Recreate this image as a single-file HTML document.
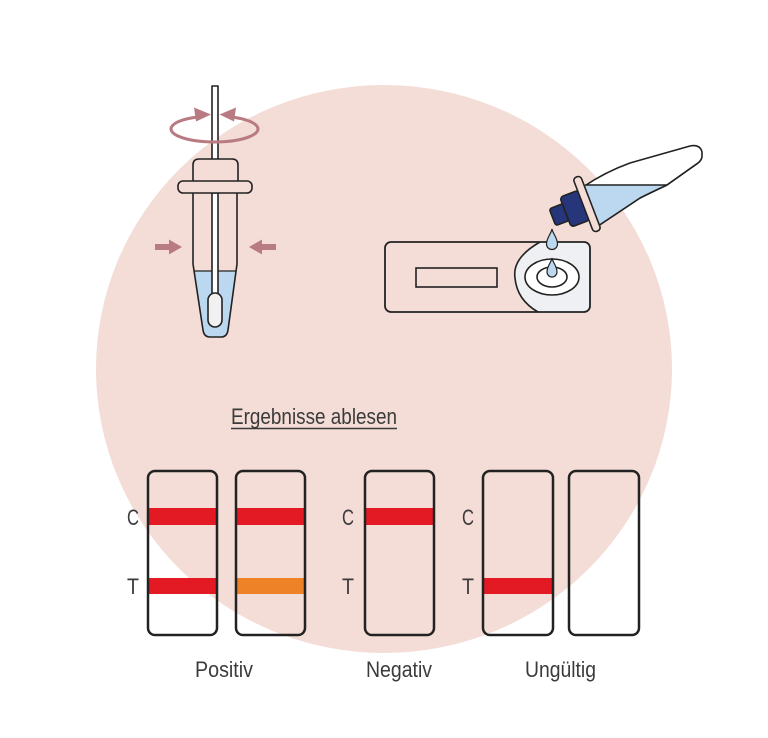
<!DOCTYPE html>
<html><head><meta charset="utf-8"><style>
html,body{margin:0;padding:0;background:#fff;}
svg{display:block;}
text{font-family:"Liberation Sans",sans-serif;fill:#3b3b3b;}
</style></head><body>
<svg width="768" height="738" viewBox="0 0 768 738" xmlns="http://www.w3.org/2000/svg">
<rect width="768" height="738" fill="#fff"/>
<ellipse cx="384" cy="369" rx="288" ry="284" fill="#f3ddd6"/>

<!-- Tube illustration -->
<g stroke="#222" stroke-width="1.6" stroke-linejoin="round">
  <rect x="212" y="86" width="6" height="75" fill="#fff"/>
  <path d="M194.2,271 L235.8,271 L228,330 Q227,337 221,337 L210,337 Q204,337 203,330 Z" fill="#bcd8f0" stroke="none"/>
  <line x1="194.2" y1="271" x2="235.8" y2="271" stroke="#222" stroke-width="1.2"/>
  <path d="M193,193 L193,264 L203,330 Q204,337 210,337 L221,337 Q227,337 228,330 L237,264 L237,193" fill="none"/>
  <rect x="212" y="193" width="6" height="102" fill="#fff"/>
  <rect x="208" y="293" width="14" height="34" rx="7" fill="#f1f1f1"/>
  <path d="M193,183 L193,165 Q193,159 199,159 L232,159 Q238,159 238,165 L238,183 Z" fill="#f3ddd6"/>
  <rect x="178" y="181" width="74" height="12" rx="5" fill="#f3ddd6"/>
</g>
<g fill="#b97b82" stroke="none">
  <path d="M200,116.7 A43.5,13 0 1 0 229,116.7" fill="none" stroke="#b97b82" stroke-width="3"/>
  <polygon points="211,114.5 194,107.5 196,121.5"/>
  <polygon points="219.5,114.5 236,107.5 234,121.5"/>
  <rect x="155" y="244" width="16" height="6"/>
  <polygon points="169,239.5 182,247 169,254.5"/>
  <rect x="261" y="244" width="15" height="6"/>
  <polygon points="262,239.5 249,247 262,254.5"/>
</g>

<!-- Cassette -->
<path d="M540,242 Q512,258 515,278 Q517,300 538,312 L584,312 Q590,312 590,306 L590,248 Q590,242 584,242 Z" fill="#eef0f3"/>
<path d="M540,242 Q512,258 515,278 Q517,300 538,312" fill="none" stroke="#222" stroke-width="1.6"/>
<rect x="385" y="242" width="205" height="70" rx="6" fill="none" stroke="#222" stroke-width="1.8"/>
<rect x="416" y="268" width="81" height="19" fill="none" stroke="#222" stroke-width="1.6"/>
<ellipse cx="552" cy="277" rx="27" ry="18" fill="#fff" stroke="#222" stroke-width="1.6"/>
<ellipse cx="552" cy="277" rx="15" ry="10" fill="#fff" stroke="#222" stroke-width="1.6"/>
<path d="M552,258 C553,263 557,266 557,272 A5,5 0 1 1 547,272 C547,266 551,263 552,258 Z" fill="#bcd8f0" stroke="#222" stroke-width="1.2"/>
<path d="M552,229 C553,234 557.5,238 557.5,244 A5.5,5.5 0 1 1 546.5,244 C546.5,238 551,234 552,229 Z" fill="#bcd8f0" stroke="#222" stroke-width="1.2"/>

<!-- Dropper bottle -->
<g stroke="#222" stroke-width="1.6" stroke-linejoin="round">
  <path d="M583,187 Q605,172 630,163 L690,146 Q700,144 702,152 L702,157 Q701,161 698,163 L667,185 Q652,192 640,198 L598,226 Z" fill="#fff"/>
  <path d="M585,185 L667,185 Q652,192 640,198 L598,226 Z" fill="#bcd8f0" stroke="none"/>
  <line x1="585" y1="185" x2="667" y2="185" stroke-width="1.4"/>
  <path d="M598,226 L640,198 Q652,192 667,185 L698,163" fill="none"/>
  <g transform="translate(587,204) rotate(-21)">
    <rect x="-37" y="-9" width="16" height="18" rx="2.5" fill="#27357b"/>
    <rect x="-23" y="-16" width="20" height="32" rx="3.5" fill="#27357b"/>
    <rect x="-4" y="-29" width="8" height="58" rx="3.5" fill="#f3ddd6"/>
  </g>
</g>

<text x="231" y="424" font-size="22" textLength="166" lengthAdjust="spacingAndGlyphs">Ergebnisse ablesen</text>
<line x1="231" y1="428.5" x2="397" y2="428.5" stroke="#3b3b3b" stroke-width="1.5"/>

<g>
  <rect x="149" y="508" width="67" height="17" fill="#e31a23"/>
  <rect x="149" y="578" width="67" height="16" fill="#e31a23"/>
  <rect x="237" y="508" width="67" height="17" fill="#e31a23"/>
  <rect x="237" y="578" width="67" height="16" fill="#ee8226"/>
  <rect x="366" y="508" width="67" height="17" fill="#e31a23"/>
  <rect x="484" y="578" width="68" height="16" fill="#e31a23"/>
</g>
<g fill="none" stroke="#222" stroke-width="2.5">
  <rect x="148" y="471" width="69" height="164" rx="7"/>
  <rect x="236" y="471" width="69" height="164" rx="7"/>
  <rect x="365" y="471" width="69" height="164" rx="7"/>
  <rect x="483" y="471" width="70" height="164" rx="7"/>
  <rect x="569" y="471" width="70" height="164" rx="7"/>
</g>

<text x="127" y="525" font-size="22" textLength="12" lengthAdjust="spacingAndGlyphs">C</text>
<text x="127" y="594" font-size="22" textLength="12" lengthAdjust="spacingAndGlyphs">T</text>
<text x="342" y="525" font-size="22" textLength="12" lengthAdjust="spacingAndGlyphs">C</text>
<text x="342" y="594" font-size="22" textLength="12" lengthAdjust="spacingAndGlyphs">T</text>
<text x="462" y="525" font-size="22" textLength="12" lengthAdjust="spacingAndGlyphs">C</text>
<text x="462" y="594" font-size="22" textLength="12" lengthAdjust="spacingAndGlyphs">T</text>

<text x="195" y="677" font-size="22" textLength="58" lengthAdjust="spacingAndGlyphs">Positiv</text>
<text x="366" y="677" font-size="22" textLength="66" lengthAdjust="spacingAndGlyphs">Negativ</text>
<text x="525" y="677" font-size="22" textLength="71" lengthAdjust="spacingAndGlyphs">Ungültig</text>
</svg>
</body></html>
